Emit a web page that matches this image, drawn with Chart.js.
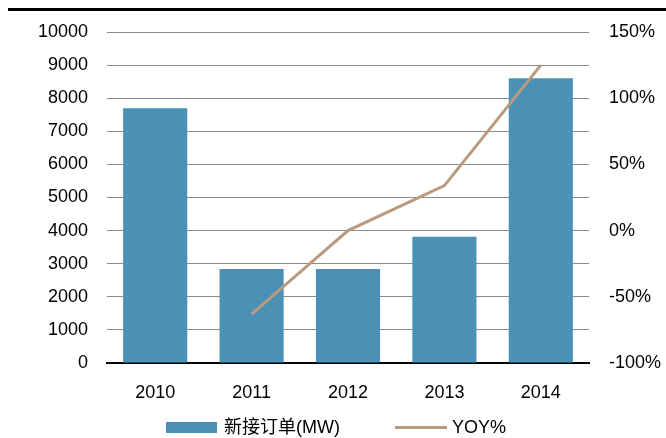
<!DOCTYPE html>
<html>
<head>
<meta charset="utf-8">
<script src="https://cdn.jsdelivr.net/npm/chart.js@4"></script>
<style>
  html, body { margin: 0; padding: 0; background: #fff; }
  #wrap { width: 666px; height: 438px; position: relative; }
</style>
</head>
<body>
<div id="wrap"><canvas id="orderChart"></canvas></div>
<script>
const years = ['2010', '2011', '2012', '2013', '2014'];
const newOrders = [7700, 2840, 2840, 3815, 8600];   // 新接订单(MW)
const yoy = [null, -63, 0, 34, 125];                // YOY%
const leftTicks = [0, 1000, 2000, 3000, 4000, 5000, 6000, 7000, 8000, 9000, 10000];
const rightTicks = [-100, -50, 0, 50, 100, 150];

const barColor = '#4b90b5';
const lineColor = '#b89b7f';
const fontFamily = "'Liberation Sans', 'Noto Sans CJK SC', sans-serif";

// top black rule + custom legend
const decorPlugin = {
  id: 'decor',
  afterDraw(chart) {
    const ctx = chart.ctx;
    ctx.save();
    ctx.fillStyle = '#000';
    ctx.fillRect(8, 8, 658, 3);

    // legend
    ctx.fillStyle = barColor;
    ctx.fillRect(166, 422, 51, 11);
    ctx.strokeStyle = lineColor;
    ctx.lineWidth = 3;
    ctx.beginPath();
    ctx.moveTo(395, 427.5);
    ctx.lineTo(447, 427.5);
    ctx.stroke();
    ctx.fillStyle = '#000';
    ctx.font = '18px ' + fontFamily;
    ctx.textBaseline = 'middle';
    ctx.fillText('新接订单(MW)', 224, 428);
    ctx.fillText('YOY%', 452, 428);
    ctx.restore();
  }
};

new Chart(document.getElementById('orderChart'), {
  data: {
    labels: years,
    datasets: [{
      type: 'line',
      label: 'YOY%',
      data: yoy,
      yAxisID: 'y1',
      borderColor: lineColor,
      borderWidth: 3,
      pointRadius: 0,
      tension: 0,
      order: 0
    }, {
      type: 'bar',
      label: '新接订单(MW)',
      data: newOrders,
      yAxisID: 'y',
      backgroundColor: barColor,
      barPercentage: 0.665,
      categoryPercentage: 1,
      order: 1
    }]
  },
  options: {
    responsive: true,
    maintainAspectRatio: false,
    animation: false,
    layout: { padding: { top: 32, left: 0, right: 0, bottom: 0 } },
    plugins: {
      legend: { display: false },
      tooltip: { enabled: false }
    },
    scales: {
      x: {
        grid: { display: false, drawTicks: false },
        border: { display: true, color: '#000', width: 2 },
        ticks: {
          color: '#000',
          padding: 19,
          font: { family: fontFamily, size: 18 }
        },
        afterFit(scale) { scale.height = 75; }
      },
      y: {
        position: 'left',
        min: 0,
        max: 10000,
        afterBuildTicks(scale) { scale.ticks = leftTicks.map(v => ({ value: v })); },
        grid: { color: '#8c8c8c', lineWidth: 1, drawTicks: false },
        border: { display: false },
        ticks: {
          color: '#000',
          padding: 19,
          font: { family: fontFamily, size: 18 },
          callback: v => String(v)
        },
        afterFit(scale) { scale.width = 107; }
      },
      y1: {
        position: 'right',
        min: -100,
        max: 150,
        afterBuildTicks(scale) { scale.ticks = rightTicks.map(v => ({ value: v })); },
        grid: { display: false, drawTicks: false },
        border: { display: false },
        ticks: {
          color: '#000',
          padding: 20,
          font: { family: fontFamily, size: 18 },
          callback: v => v + '%'
        },
        afterFit(scale) { scale.width = 77; }
      }
    }
  },
  plugins: [decorPlugin]
});
</script>
</body>
</html>
